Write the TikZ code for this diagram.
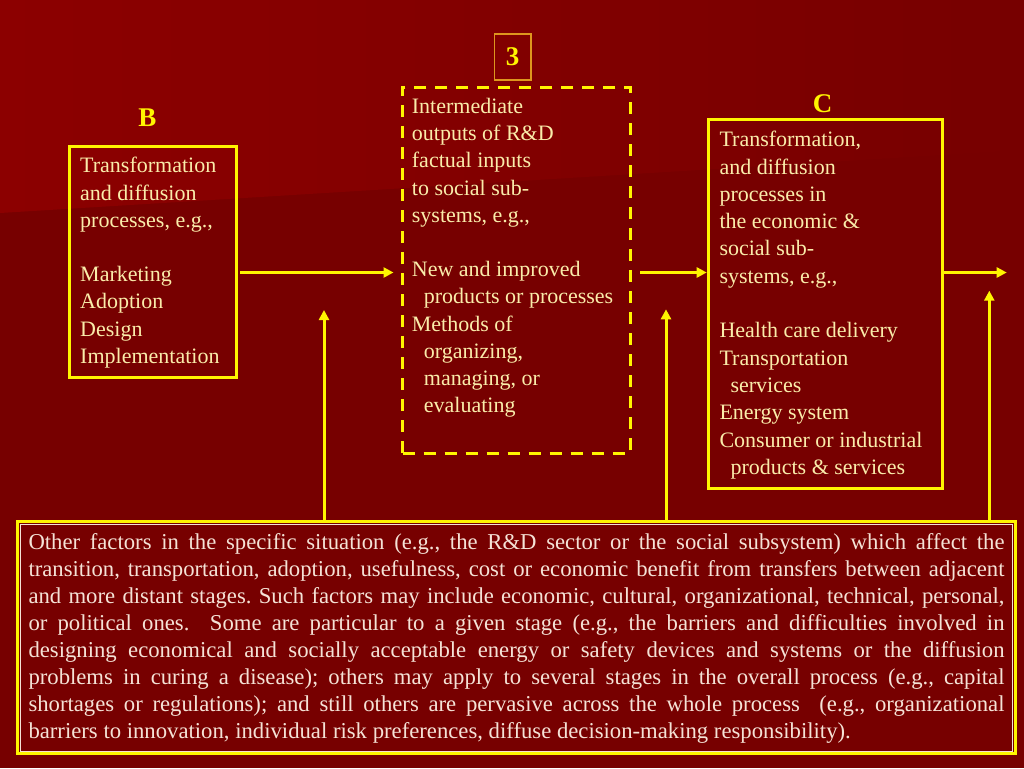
\documentclass[tikz,border=0pt]{standalone}
\usepackage{fontspec}
\setmainfont{Liberation Serif}
\usetikzlibrary{arrows.meta,calc}
\definecolor{bgtop}{RGB}{140,0,0}
\definecolor{bgbot}{RGB}{119,0,0}
\definecolor{yl}{RGB}{255,245,0}
\definecolor{cream}{RGB}{250,236,170}
\definecolor{pinkish}{RGB}{245,226,214}
\definecolor{gold}{RGB}{222,150,30}
\tikzset{
 ybox/.style={draw=yl, line width=3pt, inner sep=0pt, outer sep=0pt, rectangle, anchor=north west},
 dbox/.style={ybox, dash pattern=on 12pt off 9pt},
 arr/.style={draw=yl, line width=3pt, -{Triangle[length=10pt,width=10pt]}},
 boxtext/.style={anchor=north west, inner sep=0pt, align=left, text=cream, font=\fontsize{22}{27.2}\selectfont},
 lbl/.style={anchor=base, inner sep=0pt, text=yl, font=\fontsize{27}{30}\selectfont\bfseries},
}
\newcommand\fl{\rule{0pt}{16pt}}
\newcommand\ind{\hspace*{12pt}}
\newcommand\jl[1]{\makebox[976pt][s]{#1}}
\frenchspacing
\begin{document}
\begin{tikzpicture}[x=1pt,y=-1pt]
\useasboundingbox (0,0) rectangle (1024,768);
\fill[bgbot] (0,0) rectangle (1024,768);
\shade[left color=bgtop, right color=bgbot] (0,0) -- (1024,0) -- (1024,150) -- (0,213) -- cycle;

\node[ybox, minimum width=167pt, minimum height=231.5pt] (Bbox) at (69,146) {};
\node[dbox, minimum width=227.7pt, minimum height=366.5pt] (Dbox) at (402.5,87) {};
\node[ybox, minimum width=234pt, minimum height=368.2pt] (Cbox) at (708,119.8) {};
\node[ybox, minimum width=997.5pt, minimum height=232pt] (Fbox) at (17.5,521.5) {};
\draw[pinkish, line width=0.8pt] ($(Fbox.north west)+(2.6,2.6)$) rectangle ($(Fbox.south east)+(-2.6,-2.6)$);

\node[lbl] (Blbl) at (147.5,126) {B};
\node[lbl] (Clbl) at (822.5,112.5) {C};
\node[draw=gold, line width=1.5pt, text=yl, font=\fontsize{27}{30}\selectfont\bfseries, minimum width=36.7pt, minimum height=46pt, inner sep=0pt] (three) at (512.6,57) {3};

\node[boxtext] (Btxt) at (80,156.7) {\fl Transformation\\ and diffusion\\ processes, e.g.,\\ \mbox{}\\ Marketing\\ Adoption\\ Design\\ Implementation};

\node[boxtext] (Dtxt) at (411.7,97.3) {\fl Intermediate\\ outputs of R\&D\\ factual inputs\\ to social sub-\\ systems, e.g.,\\ \mbox{}\\ New and improved\\ \ind products or processes\\ Methods of\\ \ind organizing,\\ \ind managing, or\\ \ind evaluating};

\node[boxtext, font=\fontsize{22}{27.3}\selectfont] (Ctxt) at (719.3,130.5) {\fl Transformation,\\ and diffusion\\ processes in\\ the economic \&\\ social sub-\\ systems, e.g.,\\ \mbox{}\\ Health care delivery\\ Transportation\\ \hspace*{11pt}services\\ Energy system\\ Consumer or industrial\\ \hspace*{11pt}products \& services};

\node[anchor=north west, inner sep=0pt, align=left, text=pinkish, font=\fontsize{22.7}{27}\selectfont] (Ftxt) at (28.3,533) {\fl\jl{Other factors in the specific situation (e.g., the R\&D sector or the social subsystem) which affect the}\\
\jl{transition, transportation, adoption, usefulness, cost or economic benefit from transfers between adjacent}\\
\jl{and more distant stages. Such factors may include economic, cultural, organizational, technical, personal,}\\
\jl{or political ones.\ \ Some are particular to a given stage (e.g., the barriers and difficulties involved in}\\
\jl{designing economical and socially acceptable energy or safety devices and systems or the diffusion}\\
\jl{problems in curing a disease); others may apply to several stages in the overall process (e.g., capital}\\
\jl{shortages or regulations); and still others are pervasive across the whole process\ \ (e.g., organizational}\\
barriers to innovation, individual risk preferences, diffuse decision-making responsibility).};

\coordinate (row) at (0,272.5);
\coordinate (out) at (1006.7,272.5);
\coordinate (t1) at (324,310);
\coordinate (t2) at (666,309.3);
\coordinate (t3) at (989.3,290.7);
\draw[arr, shorten <=4pt, shorten >=9pt] (Bbox.east |- row) -- (Dbox.west |- row);
\draw[arr, shorten <=9.8pt, shorten >=1.3pt] (Dbox.east |- row) -- (Cbox.west |- row);
\draw[arr] (Cbox.east |- row) -- (out);
\draw[arr] (Fbox.north -| t1) -- (t1);
\draw[arr] (Fbox.north -| t2) -- (t2);
\draw[arr] (Fbox.north -| t3) -- (t3);
\end{tikzpicture}
\end{document}
